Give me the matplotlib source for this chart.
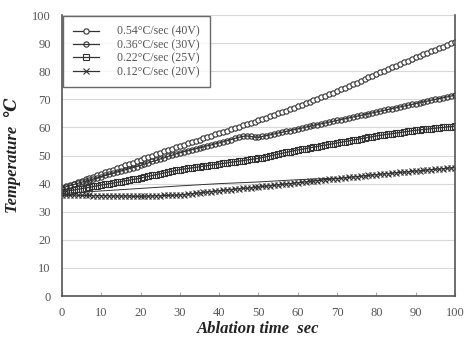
import matplotlib
matplotlib.use('Agg')
import matplotlib.pyplot as plt
import numpy as np

# time axis (sec), one sample per second
time_sec = list(range(0, 101))

temp_054 = [
    38.5, 39.0, 39.5, 40.0, 40.5, 41.0, 41.5, 42.0, 42.5, 43.0,
    43.5, 44.0, 44.5, 45.0, 45.5, 46.0, 46.5, 47.0, 47.5, 48.0,
    48.5, 49.0, 49.5, 50.0, 50.5, 51.0, 51.5, 52.0, 52.5, 53.0,
    53.5, 53.9, 54.4, 54.8, 55.3, 55.7, 56.2, 56.6, 57.1, 57.5,
    58.0, 58.4, 58.9, 59.3, 59.8, 60.2, 60.7, 61.1, 61.6, 62.0,
    62.5, 63.0, 63.5, 64.0, 64.5, 65.0, 65.5, 66.0, 66.5, 67.0,
    67.5, 68.0, 68.6, 69.1, 69.7, 70.2, 70.8, 71.3, 71.9, 72.4,
    73.0, 73.6, 74.2, 74.8, 75.4, 76.0, 76.6, 77.2, 77.8, 78.4,
    79.0, 79.6, 80.2, 80.8, 81.4, 82.0, 82.6, 83.2, 83.8, 84.4,
    85.0, 85.5, 86.1, 86.6, 87.2, 87.7, 88.3, 88.8, 89.4, 89.9, 90.5,
]

temp_036 = [
    38.5, 38.9, 39.3, 39.7, 40.1, 40.5, 40.9, 41.3, 41.7, 42.1,
    42.5, 42.9, 43.3, 43.7, 44.1, 44.5, 44.9, 45.3, 45.7, 46.1,
    46.5, 47.0, 47.4, 47.9, 48.3, 48.8, 49.2, 49.7, 50.1, 50.6,
    51.0, 51.4, 51.7, 52.1, 52.4, 52.8, 53.1, 53.5, 53.8, 54.2,
    54.5, 54.9, 55.3, 55.7, 56.1, 56.5, 56.8, 57.0, 56.8, 56.6,
    56.5, 56.8, 57.1, 57.4, 57.7, 58.0, 58.3, 58.6, 58.9, 59.2,
    59.5, 59.8, 60.1, 60.4, 60.7, 61.0, 61.3, 61.6, 61.9, 62.2,
    62.5, 62.8, 63.1, 63.4, 63.7, 64.0, 64.3, 64.6, 64.9, 65.2,
    65.5, 65.8, 66.1, 66.4, 66.7, 67.0, 67.3, 67.6, 67.9, 68.2,
    68.5, 68.8, 69.1, 69.4, 69.7, 70.0, 70.3, 70.6, 70.9, 71.2, 71.5,
]

temp_022 = [
    37.0, 37.2, 37.5, 37.7, 38.0, 38.2, 38.5, 38.7, 39.0, 39.2,
    39.5, 39.7, 40.0, 40.2, 40.5, 40.7, 41.0, 41.2, 41.5, 41.7,
    42.0, 42.3, 42.6, 42.9, 43.2, 43.5, 43.8, 44.1, 44.4, 44.7,
    45.0, 45.2, 45.4, 45.6, 45.8, 46.0, 46.2, 46.4, 46.6, 46.8,
    47.0, 47.2, 47.4, 47.6, 47.8, 48.0, 48.2, 48.4, 48.6, 48.8,
    49.0, 49.3, 49.6, 49.9, 50.2, 50.5, 50.8, 51.1, 51.4, 51.7,
    52.0, 52.2, 52.5, 52.7, 53.0, 53.2, 53.5, 53.7, 54.0, 54.2,
    54.5, 54.7, 55.0, 55.2, 55.5, 55.7, 56.0, 56.2, 56.5, 56.7,
    57.0, 57.2, 57.4, 57.6, 57.8, 58.0, 58.2, 58.4, 58.6, 58.8,
    59.0, 59.1, 59.3, 59.4, 59.6, 59.7, 59.9, 60.0, 60.2, 60.3, 60.5,
]

temp_012 = [
    36.0, 36.0, 35.9, 35.9, 35.9, 35.8, 35.8, 35.8, 35.7, 35.7,
    35.7, 35.7, 35.7, 35.6, 35.6, 35.6, 35.6, 35.6, 35.5, 35.5,
    35.5, 35.5, 35.6, 35.6, 35.7, 35.7, 35.8, 35.8, 35.9, 35.9,
    36.0, 36.1, 36.3, 36.4, 36.6, 36.7, 36.9, 37.0, 37.2, 37.3,
    37.5, 37.6, 37.8, 37.9, 38.0, 38.2, 38.3, 38.4, 38.5, 38.7,
    38.8, 39.0, 39.1, 39.3, 39.4, 39.6, 39.7, 39.9, 40.0, 40.2,
    40.3, 40.5, 40.6, 40.8, 40.9, 41.1, 41.2, 41.4, 41.5, 41.7,
    41.8, 41.9, 42.1, 42.2, 42.4, 42.5, 42.6, 42.8, 42.9, 43.1,
    43.2, 43.3, 43.5, 43.6, 43.7, 43.9, 44.0, 44.1, 44.2, 44.4,
    44.5, 44.6, 44.7, 44.9, 45.0, 45.1, 45.2, 45.3, 45.5, 45.6, 45.7,
]

# thin unmarked line running just above the 0.12 series
thin_time = [0, 10, 20, 30, 40, 50, 60, 70]
thin_temp = [36.5, 37.4, 38.3, 39.2, 40.0, 40.6, 41.4, 42.0]

labels = ['0.54\u00b0C/sec (40V)', '0.36\u00b0C/sec (30V)',
          '0.22\u00b0C/sec (25V)', '0.12\u00b0C/sec (20V)']

serif = ['Liberation Serif', 'DejaVu Serif']
plt.rcParams['font.family'] = serif

fig = plt.figure(figsize=(4.65, 3.43), dpi=100)
ax = fig.add_axes([0.1333, 0.137, 0.845, 0.819])

ink = '#333333'
ax.plot(thin_time, thin_temp, color=ink, lw=0.7)

styles = [
    dict(marker='o', mfc='white'),
    dict(marker='o', mfc='none'),
    dict(marker='s', mfc='none'),
    dict(marker='x', mfc='none'),
]
series = [temp_054, temp_036, temp_022, temp_012]
for vals, lab, st in zip(series, labels, styles):
    ax.plot(time_sec, vals, color=ink, lw=0.9, ms=3.8, mec=ink,
            mew=0.8, label=lab, **st)

ax.set_xlim(0, 100)
ax.set_ylim(0, 100)
ax.set_xticks(np.arange(0, 101, 10))
ax.set_yticks(np.arange(0, 101, 10))
ax.yaxis.grid(True, color='#d8d8d8', lw=0.8)
ax.set_axisbelow(True)
ax.tick_params(axis='x', direction='in', length=3, color='#aaaaaa',
               labelsize=9, labelcolor='#555555', pad=8)
ax.tick_params(axis='y', length=0, labelsize=9, labelcolor='#555555', pad=8)

for side in ['left', 'bottom', 'right']:
    ax.spines[side].set_color('#555555')
    ax.spines[side].set_linewidth(1.2)
ax.spines['top'].set_visible(False)

ax.set_xlabel('Ablation time  sec', fontsize=12, fontweight='bold',
              fontstyle='italic', color='#222222', labelpad=1)
ax.set_ylabel('Temperature  \u2103', fontsize=12, fontweight='bold',
              fontstyle='italic', color='#222222', labelpad=8)

leg = ax.legend(loc='upper left', bbox_to_anchor=(0.0, 1.0), fontsize=8.5,
                frameon=True, fancybox=False, edgecolor='#444444',
                handlelength=2.2, labelspacing=0.12, borderpad=0.8,
                handletextpad=1.6, borderaxespad=0.1)
leg.get_frame().set_linewidth(1.0)
for t in leg.get_texts():
    t.set_color('#555555')

fig.savefig('out.png', dpi=100, facecolor='white')
